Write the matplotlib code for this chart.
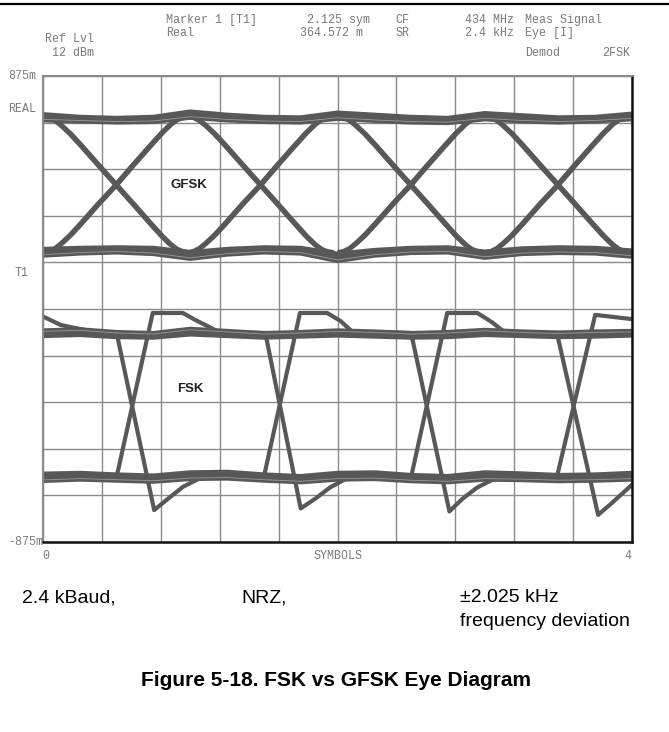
import matplotlib
matplotlib.use("Agg")
import matplotlib.pyplot as plt
import numpy as np
from matplotlib.lines import Line2D

# ---- data (x in symbols, y in m units) ----
x_min, x_max = 0, 4
y_min, y_max = -875, 875

# GFSK edge shape inside one symbol (offset from symbol start)
edge_t = [0.00, 0.04, 0.08, 0.12, 0.18, 0.25, 0.37, 0.49, 0.60, 0.72, 0.80, 0.86, 0.90, 0.94, 0.98]
fall_v = [721, 717, 706, 688, 657, 615, 540, 466, 398, 323, 274, 242, 226, 217, 214]
rise_v = [214, 218, 229, 247, 278, 320, 395, 466, 537, 612, 661, 693, 709, 718, 721]
sym_start = [0.00, 0.98, 2.00, 3.00]
sym_start_2 = [0.015, 0.995, 2.015, 3.015]

# GFSK flat levels
lvl_t = [0.0, 0.25, 0.5, 0.75, 1.0, 1.25, 1.5, 1.75, 2.0,
         2.25, 2.5, 2.75, 3.0, 3.25, 3.5, 3.75, 4.0]
gfsk_top_1 = [728, 718, 714, 718, 738, 726, 718, 716, 734, 726, 718, 714, 732, 724, 716, 718, 730]
gfsk_top_2 = [712, 708, 704, 706, 722, 712, 706, 704, 718, 710, 704, 702, 716, 708, 704, 708, 716]
gfsk_bot_1 = [204, 212, 216, 210, 192, 208, 216, 212, 184, 204, 214, 216, 196, 210, 214, 212, 200]
gfsk_bot_2 = [222, 226, 228, 226, 210, 222, 228, 226, 204, 218, 226, 228, 212, 224, 228, 226, 216]

# FSK: two alternating traces with overshoot after each edge
fsk_a_t = [0.00, 0.12, 0.25, 0.40, 0.50, 0.755, 0.85, 0.95, 1.05, 1.15, 1.50,
           1.745, 1.93, 2.02, 2.10, 2.50, 2.76, 2.85, 2.95, 3.05, 3.15, 3.49, 3.75, 4.00]
fsk_a_v = [-28, -60, -75, -90, -90, -755, -712, -668, -640, -625, -631,
           -15, -15, -45, -85, -90, -760, -712, -670, -642, -628, -631, -22, -38]
fsk_b_t = [0.00, 0.30, 0.50, 0.745, 0.95, 1.03, 1.12, 1.20, 1.51, 1.75, 1.85,
           1.95, 2.05, 2.20, 2.50, 2.745, 2.95, 3.05, 3.13, 3.49, 3.77, 3.85, 4.00]
fsk_b_v = [-640, -628, -631, -15, -15, -40, -65, -88, -90, -749, -712,
           -670, -640, -625, -631, -15, -15, -50, -85, -90, -773, -735, -660]

# FSK flat levels
fsk_top_1 = [-84, -80, -90, -94, -78, -86, -94, -90, -84, -88, -94, -90, -82, -88, -92, -88, -86]
fsk_top_2 = [-98, -94, -102, -104, -92, -98, -104, -100, -96, -100, -104, -102, -94, -98, -102, -100, -96]
fsk_bot_1 = [-622, -619, -625, -629, -617, -615, -625, -631, -619, -617, -627, -631, -617, -621, -627, -625, -619]
fsk_bot_2 = [-642, -637, -641, -645, -635, -633, -641, -647, -637, -635, -643, -647, -637, -639, -643, -641, -637]

trace_col = "#585858"
thin_col = "#9a9a9a"
head_col = "#7a7a7a"
mono = "Liberation Mono"

fig = plt.figure(figsize=(6.69, 7.32), dpi=100)
ax = fig.add_axes([43 / 669, 1 - 542 / 732, 589 / 669, 466 / 732])
ax.set_xlim(x_min, x_max)
ax.set_ylim(y_min, y_max)

# graticule
ax.set_xticks(np.linspace(x_min, x_max, 11))
ax.set_yticks(np.linspace(y_min, y_max, 11))
ax.grid(True, color="#8a8a8a", linewidth=1.0)
ax.tick_params(length=0, labelbottom=False, labelleft=False)
for s in ["left", "top"]:
    ax.spines[s].set_color("#8a8a8a")
    ax.spines[s].set_linewidth(1.5)
for s in ["right", "bottom"]:
    ax.spines[s].set_color("#111111")
    ax.spines[s].set_linewidth(1.8)

# level bands
for v in [gfsk_top_1, gfsk_top_2, gfsk_bot_1, gfsk_bot_2,
          fsk_top_1, fsk_top_2, fsk_bot_1, fsk_bot_2]:
    ax.plot(lvl_t, v, color=trace_col, lw=4.4, solid_capstyle="butt")

# GFSK edges, two sweeps slightly apart
for starts in [sym_start, sym_start_2]:
    for t0 in starts:
        tt = [t0 + e for e in edge_t]
        ax.plot(tt, fall_v, color=trace_col, lw=2.8, solid_capstyle="butt")
        ax.plot(tt, rise_v, color=trace_col, lw=2.8, solid_capstyle="butt")

# FSK edges
ax.plot(fsk_a_t, fsk_a_v, color=trace_col, lw=3.0)
ax.plot(fsk_b_t, fsk_b_v, color=trace_col, lw=3.0)

# a few lighter single sweeps
ax.plot(lvl_t, gfsk_top_2, color=thin_col, lw=0.6)
ax.plot(lvl_t, gfsk_bot_1, color=thin_col, lw=0.6)
ax.plot(lvl_t, fsk_top_1, color=thin_col, lw=0.6)
ax.plot(lvl_t, fsk_bot_2, color=thin_col, lw=0.6)

ax.text(0.99, 466, "GFSK", fontsize=9.5, fontweight="bold", family="Liberation Sans",
        color="#222222", ha="center", va="center")
ax.text(1.0, -300, "FSK", fontsize=9.5, fontweight="bold", family="Liberation Sans",
        color="#222222", ha="center", va="center")

# axis side labels
fs = 8.4
yl = ax.get_yaxis_transform()
ax.text(-35 / 589, 875, "875m", transform=yl, family=mono, fontsize=fs, color=head_col, va="center", ha="left")
ax.text(-35 / 589, 751, "REAL", transform=yl, family=mono, fontsize=fs, color=head_col, va="center", ha="left")
ax.text(-28 / 589, 135, "T1", transform=yl, family=mono, fontsize=fs, color=head_col, va="center", ha="left")
ax.text(-35 / 589, -875, "-875m", transform=yl, family=mono, fontsize=fs, color=head_col, va="center", ha="left")
xl = ax.get_xaxis_transform()
ax.text(0.02, -14 / 466, "0", transform=xl, family=mono, fontsize=fs, color=head_col, va="center", ha="center")
ax.text(2, -14 / 466, "SYMBOLS", transform=xl, family=mono, fontsize=fs, color=head_col, va="center", ha="center")
ax.text(3.97, -14 / 466, "4", transform=xl, family=mono, fontsize=fs, color=head_col, va="center", ha="center")

# header block
def head(x, y, s, ha="left"):
    fig.text(x / 669, 1 - y / 732, s, family=mono, fontsize=fs, color=head_col, ha=ha, va="center")

head(166, 20, "Marker 1 [T1]")
head(166, 33, "Real")
head(370, 20, "2.125 sym", "right")
head(363, 33, "364.572 m", "right")
head(395, 20, "CF")
head(395, 33, "SR")
head(514, 20, "434 MHz", "right")
head(514, 33, "2.4 kHz", "right")
head(525, 20, "Meas Signal")
head(525, 33, "Eye [I]")
head(525, 53, "Demod")
head(630, 53, "2FSK", "right")
head(45, 39, "Ref Lvl")
head(52, 53, "12 dBm")

fig.add_artist(Line2D([0, 1], [1 - 4 / 732, 1 - 4 / 732], color="black", lw=1.6))

# caption text
sans = "Liberation Sans"
fig.text(22 / 669, 1 - 598 / 732, "2.4 kBaud,", family=sans, fontsize=14, ha="left", va="center")
fig.text(241 / 669, 1 - 598 / 732, "NRZ,", family=sans, fontsize=14, ha="left", va="center")
fig.text(460 / 669, 1 - 598 / 732, "\u00b12.025 kHz", family=sans, fontsize=14, ha="left", va="center")
fig.text(460 / 669, 1 - 621 / 732, "frequency deviation", family=sans, fontsize=14, ha="left", va="center")
fig.text(336 / 669, 1 - 681 / 732, "Figure 5-18. FSK vs GFSK Eye Diagram", family=sans,
         fontsize=15, fontweight="bold", ha="center", va="center")

fig.savefig("out.png", dpi=100)
